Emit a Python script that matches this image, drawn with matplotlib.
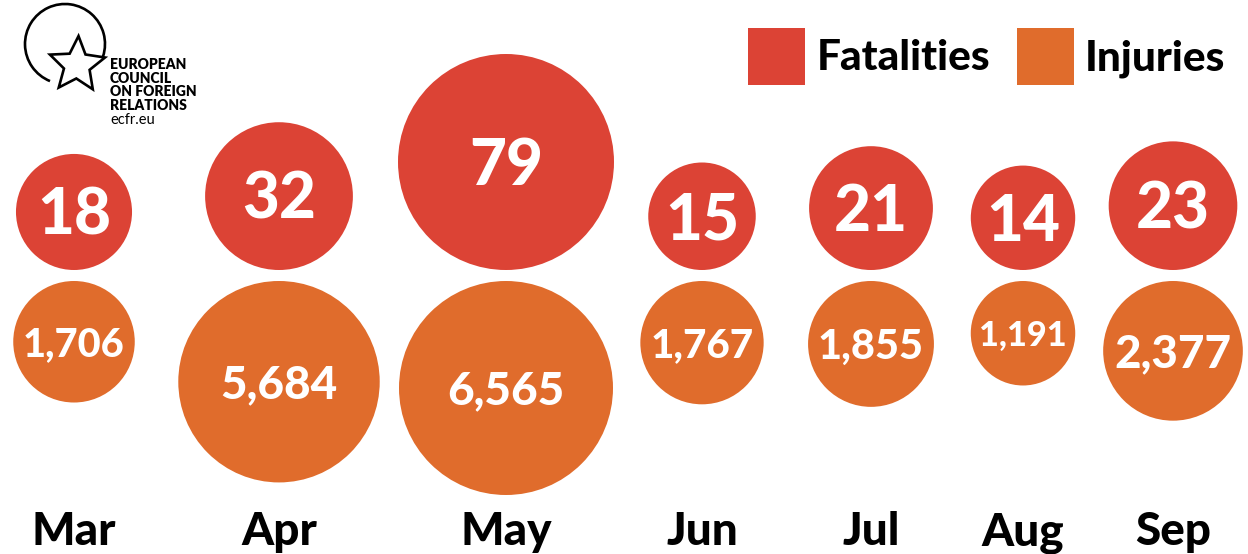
import numpy as np
import matplotlib
matplotlib.use("Agg")
import matplotlib.pyplot as plt
from matplotlib.patches import Circle, Rectangle, Arc, Polygon

plt.rcParams['font.family'] = ['Lato', 'DejaVu Sans']

# ---------------- data ----------------
months = ['Mar', 'Apr', 'May', 'Jun', 'Jul', 'Aug', 'Sep']
fatalities = [18, 32, 79, 15, 21, 14, 23]
injuries = [1706, 5684, 6565, 1767, 1855, 1191, 2377]
series_names = ['Fatalities', 'Injuries']

# ---------------- layout / style ----------------
W, H = 1248, 554
x_centers = [74, 279, 506, 702, 871, 1023, 1173]
RED = '#DC4335'
ORANGE = '#E06C2C'
RED_BASELINE = 270     # red bubbles sit on this line
ORANGE_TOP = 281       # orange bubbles hang from this line
RED_RMAX = 108
ORANGE_RMAX = 107
EXPONENT = 0.42


def radius_scale(values, rmax, p=EXPONENT):
    v = np.asarray(values, dtype=float)
    return rmax * (v / v.max()) ** p


fig = plt.figure(figsize=(W / 100, H / 100), dpi=100)
ax = fig.add_axes([0, 0, 1, 1])
ax.set_xlim(0, W)
ax.set_ylim(H, 0)
ax.axis('off')
renderer = fig.canvas.get_renderer()


def number_label(x, cy, s, size_pt, r):
    size_px = size_pt * 100 / 72
    t = ax.text(x, cy + 0.358 * size_px, s, ha='center', va='baseline',
                fontsize=size_pt, color='white', fontweight='black')
    bb = t.get_window_extent(renderer)
    limit = 0.84 * 2 * r
    if bb.width > limit:
        size_pt = size_pt * limit / bb.width
        size_px = size_pt * 100 / 72
        t.set_fontsize(size_pt)
        t.set_y(cy + 0.358 * size_px)
    return t


r_red = radius_scale(fatalities, RED_RMAX)
r_orange = radius_scale(injuries, ORANGE_RMAX)

for x, v, r in zip(x_centers, fatalities, r_red):
    cy = RED_BASELINE - r
    ax.add_patch(Circle((x, cy), r, facecolor=RED, edgecolor='none'))
    number_label(x, cy, f"{v:,}", 46, r)

for x, v, r in zip(x_centers, injuries, r_orange):
    cy = ORANGE_TOP + r
    ax.add_patch(Circle((x, cy), r, facecolor=ORANGE, edgecolor='none'))
    number_label(x, cy, f"{v:,}", 33, r)

for x, m in zip(x_centers, months):
    ax.text(x, 545, m, ha='center', va='baseline', fontsize=33,
            fontweight='black', color='black')

# ---------------- legend ----------------
ax.add_patch(Rectangle((748, 28), 57, 57, facecolor=RED, edgecolor='none'))
ax.text(817, 70, series_names[0], ha='left', va='baseline', fontsize=30.5,
        fontweight='black', color='black')
ax.add_patch(Rectangle((1017, 28), 57, 57, facecolor=ORANGE, edgecolor='none'))
ax.text(1085, 70, series_names[1], ha='left', va='baseline', fontsize=30.5,
        fontweight='black', color='black')

# ---------------- logo ----------------
ax.add_patch(Arc((65, 44), 80, 80, angle=0, theta1=112, theta2=378,
                 color='black', lw=1.9))
cx, cy, R, rin = 77, 65, 29, 13.5
pts = []
for k in range(10):
    ang = np.deg2rad(-90 + 3 + k * 36)
    rr = R if k % 2 == 0 else rin
    pts.append((cx + rr * np.cos(ang), cy + rr * np.sin(ang)))
ax.add_patch(Polygon(pts, closed=True, fill=False, edgecolor='black', lw=1.9,
                     joinstyle='miter'))
logo_lines = ['EUROPEAN', 'COUNCIL', 'ON FOREIGN', 'RELATIONS']
for i, line in enumerate(logo_lines):
    ax.text(110, 69 + i * 13.7, line, ha='left', va='baseline', fontsize=10,
            fontweight='heavy', color='black')
ax.text(110, 124, 'ecfr.eu', ha='left', va='baseline', fontsize=10.5,
        color='black')

fig.savefig('out.png', dpi=100)
